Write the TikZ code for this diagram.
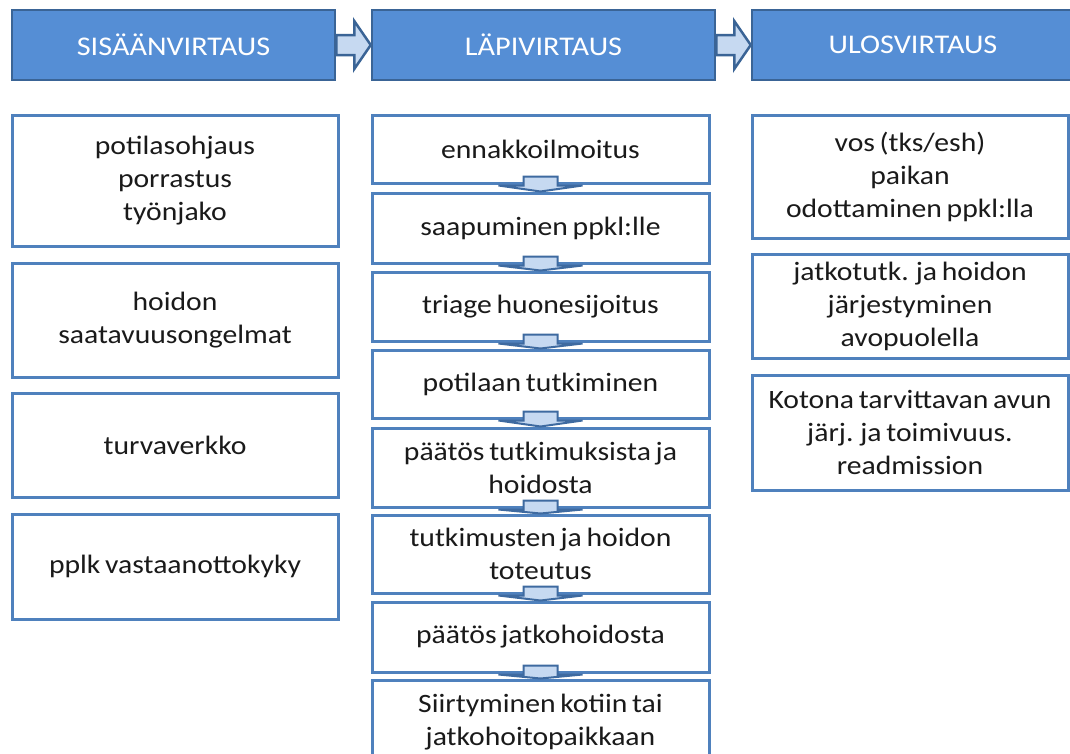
\documentclass[tikz,border=0pt]{standalone}
\usepackage{fontspec}
\setmainfont{Carlito}[FakeStretch=1.12, WordSpace=0.7]
\usetikzlibrary{calc}
\definecolor{hfill}{HTML}{558ED5}
\definecolor{hdraw}{HTML}{3A6496}
\definecolor{bdraw}{HTML}{4F81BD}
\definecolor{afill}{HTML}{C6D9F1}
\definecolor{adraw}{HTML}{3E6AA0}
\definecolor{txt}{HTML}{1A1A1A}
\tikzset{
  hdr/.style={draw=hdraw, fill=hfill, line width=2.5pt, text=white, inner sep=0pt,
    font=\fontsize{27}{32}\selectfont, minimum height=70pt},
  bx/.style={draw=bdraw, fill=white, line width=3pt, text=txt, inner sep=0pt, align=center,
    font=\fontsize{26.5}{33}\selectfont},
  lbx/.style={bx, minimum width=326pt},
  mbx/.style={bx, minimum width=337pt},
  rbx/.style={bx, minimum width=316pt},
  harr/.style={draw=hdraw, fill=afill, line width=2.5pt, line join=miter},
  darr/.style={draw=adraw, fill=afill, line width=2pt, line join=miter},
}
\newcommand{\hflow}[2]{%
  \path[harr] let \p1=(#1.east), \p2=(#2.west) in
    (\x1,\y1+10pt) -- (\x1+18pt,\y1+10pt) -- (\x1+18pt,\y1+24pt) -- (\x2,\y1)
    -- (\x1+18pt,\y1-24pt) -- (\x1+18pt,\y1-10pt) -- (\x1,\y1-10pt) -- cycle;}
\newcommand{\vflow}[2]{%
  \path[darr] let \p1=(#1.south), \p2=(#2.north) in
    (\x1-17pt,\y1+8pt) -- (\x1+17pt,\y1+8pt) -- (\x1+17pt,\y1-1pt) -- (\x1+42pt,\y1-1pt)
    -- (\x1,\y2) -- (\x1-42pt,\y1-1pt) -- (\x1-17pt,\y1-1pt) -- cycle;}
\begin{document}
\begin{tikzpicture}[x=1pt,y=-1pt]
\useasboundingbox (0,0) rectangle (1070,753);
\clip (0,0) rectangle (1070,753);
\fill[white] (0,0) rectangle (1070,753);
% headers
\node[hdr, minimum width=323pt] (h1) at (173.5,45) {SISÄÄNVIRTAUS};
\node[hdr, minimum width=343pt] (h2) at (543.5,45) {LÄPIVIRTAUS};
\node[hdr, minimum width=338pt] (h3) at (921,45) {};
\node[text=white, font=\fontsize{27}{32}\selectfont] (h3t) at (913,45) {ULOSVIRTAUS};
\hflow{h1}{h2}
\hflow{h2}{h3}
% left column
\node[lbx, minimum height=131pt] (l1) at (175,180.5) {potilasohjaus\\porrastus\\työnjako};
\node[lbx, minimum height=114pt] (l2) at (175,320) {hoidon\\saatavuusongelmat};
\node[lbx, minimum height=104pt] (l3) at (175,445) {turvaverkko};
\node[lbx, minimum height=105pt] (l4) at (175,566.5) {pplk vastaanottokyky};
% middle column
\node[mbx, minimum height=68pt] (m1) at (540.5,149) {ennakkoilmoitus};
\node[mbx, minimum height=70pt] (m2) at (540.5,228) {saapuminen ppkl:lle};
\node[mbx, minimum height=69pt] (m3) at (540.5,306.5) {triage huonesijoitus};
\node[mbx, minimum height=68pt] (m4) at (540.5,384) {potilaan tutkiminen};
\node[mbx, minimum height=79pt] (m5) at (540.5,467.5) {päätös tutkimuksista ja\\hoidosta};
\node[mbx, minimum height=78pt] (m6) at (540.5,554) {tutkimusten ja hoidon\\toteutus};
\node[mbx, minimum height=70pt] (m7) at (540.5,637) {päätös jatkohoidosta};
\node[mbx, minimum height=85pt] (m8) at (540.5,722.5) {Siirtyminen kotiin tai\\jatkohoitopaikkaan};
\vflow{m1}{m2}
\vflow{m2}{m3}
\vflow{m3}{m4}
\vflow{m4}{m5}
\vflow{m5}{m6}
\vflow{m6}{m7}
\vflow{m7}{m8}
% right column
\node[rbx, minimum height=123pt] (r1) at (910,176.5) {vos (tks/esh)\\paikan\\odottaminen ppkl:lla};
\node[rbx, minimum height=104pt] (r2) at (910,306) {jatkotutk. ja hoidon\\järjestyminen\\avopuolella};
\node[rbx, minimum height=115pt] (r3) at (910,432.5) {Kotona tarvittavan avun\\järj. ja toimivuus.\\readmission};
\end{tikzpicture}
\end{document}
